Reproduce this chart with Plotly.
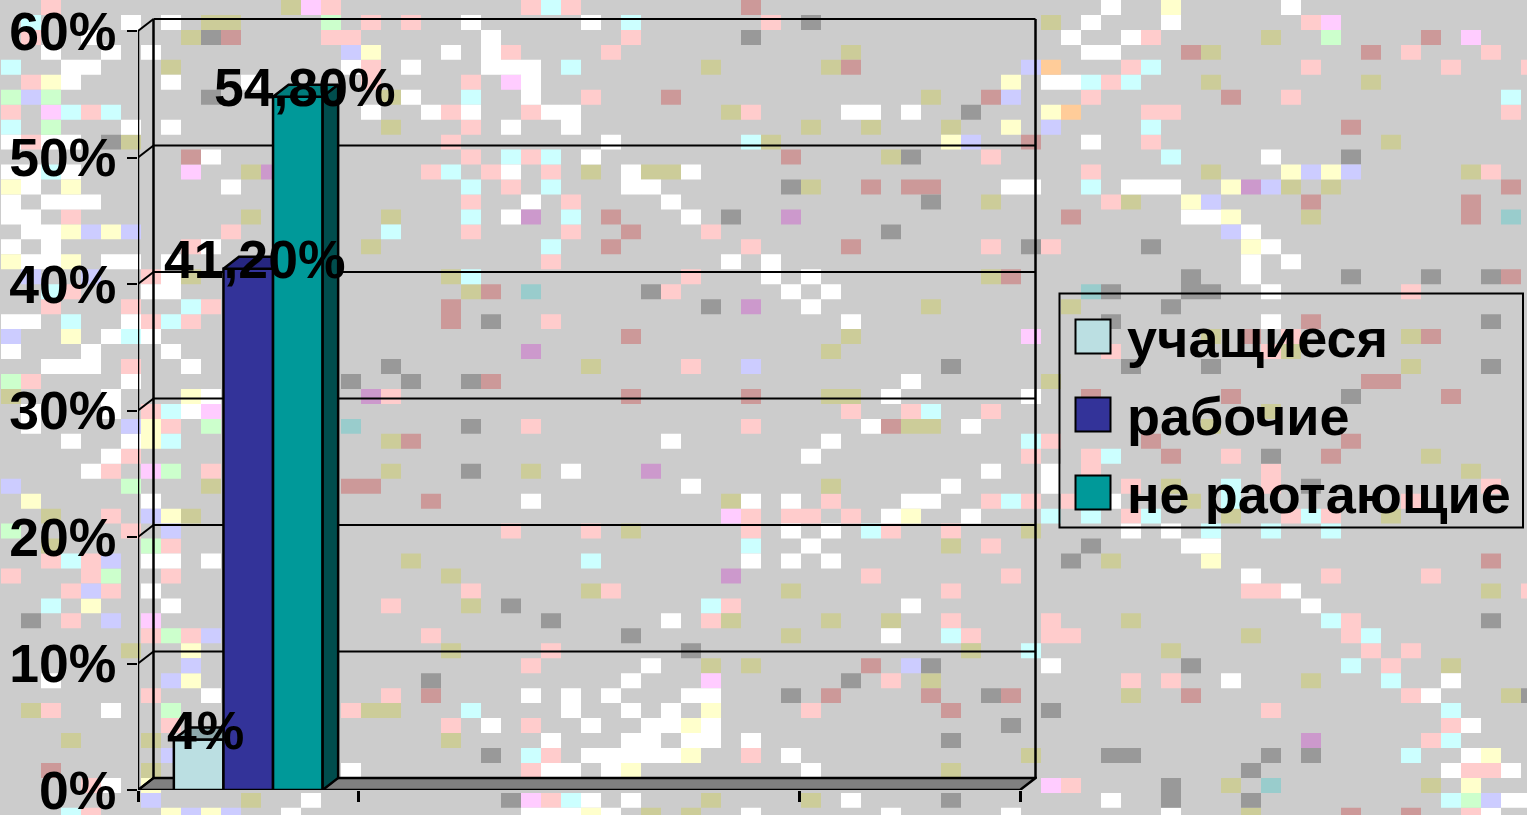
import plotly.graph_objects as go

W, H = 1527, 815
series = ["учащиеся", "рабочие", "не раотающие"]
values = [4.0, 41.2, 54.8]
labels = ["4%", "41,20%", "54,80%"]
colors = ["#BBDFE2", "#333399", "#009999"]
top_colors = ["#8DA8AB", "#262680", "#007D7D"]
side_color = "#004D4D"
y_ticks = [0, 10, 20, 30, 40, 50, 60]
y_tick_text = ["0%", "10%", "20%", "30%", "40%", "50%", "60%"]
x_ticks = [-0.5, 0.5, 2.5, 3.5]

# Background mosaic: one string per row, letter = colour, number = column
tile_colors = dict(W="#FFFFFF", P="#FFCCCC", K="#CCCC99", G="#999999", R="#CC9999", L="#FFFFCC", B="#CCCCFF",
                   N="#CCFFCC", C="#CCFFFF", M="#FFCCFF", V="#CC99CC", T="#99CCCC", O="#FFCC99")
tile_rows = [
    "P2 K14 M15 P16 P26 C27 P28 R37 W55 L58 W64",
    "C1 W6 W8 K10 K11 N16 P18 P20 W23 W29 C31 P38 G40 K52 W54 W58 P65 M66",
    "P1 W4 K9 G10 R11 P16 P17 W24 P31 G37 W53 W56 P57 K63 N66 R71 M73",
    "W2 W5 W7 B17 L18 W22 W24 P25 P30 K42 W54 W55 R59 K60 R68 P70 P74",
    "C0 W3 W4 K8 W17 P18 W20 W24 W25 W26 C28 K35 K41 R42 B51 O52 P56 C57 P65 P72 P76",
    "P1 L2 W3 W8 W12 P18 P23 M25 W26 L50 W52 W53 C54 P55 C56 K60 K68",
    "N0 B1 N2 G10 K19 W20 C23 W26 P29 R33 K46 R49 B50 P54 R61 P64 C75",
    "P0 M2 C3 P4 C5 W18 W21 P22 W23 P26 W27 W28 K36 P37 W42 W43 W45 G48 L52 O53 P57 P58 P75",
    "C0 N2 W6 W8 K19 P23 W25 W28 K40 K43 K47 L50 B52 C57 R67",
    "W0 P1 W2 W3 G5 K6 P22 W30 C37 K38 L47 B48 R51 W54 P57 K69",
    "R9 W10 P23 C25 P26 C27 W29 R39 K44 G45 P49 C58 W63 G67",
    "W0 W1 C2 W3 M9 K12 V13 P21 C22 P24 W25 P27 K29 W31 K32 K33 W34 P54 K60 L64 B65 L66 B67 K73 P74",
    "L0 W1 L3 W11 C23 P25 C27 W31 W32 G39 K40 R43 R45 R46 W50 W51 C54 W56 W57 W58 L61 V62 B63 K64 K66 R75",
    "W0 W2 W3 W4 P23 W26 P28 W33 G46 K49 P55 K56 L59 B60 R65 R73",
    "W0 W1 P3 K12 K19 C23 W25 V26 C28 R30 W34 G36 V39 R53 W59 W60 L61 K65 R73 T75",
    "W1 W2 L3 B4 L5 B6 P11 C19 P23 P28 R31 P35 G44 B61 W62",
    "W0 W2 P9 W10 K18 C27 R30 P37 R42 P49 G51 P52 G57 L62 W63",
    "L0 W1 W2 L3 W5 W6 W8 P27 W36 W38 W62 W64",
    "B1 B4 P7 W8 K9 K22 C23 P34 W38 W40 K49 R50 G59 W62 G67 G71 G74 R75",
    "C2 P3 W7 W8 K23 R24 T26 G32 P33 W39 W41 T54 G55 G59 G60 W63 P70",
    "P2 P6 C9 P10 R22 G35 V37 W40 K46 K53 G58",
    "W0 W1 C3 W6 P7 C8 P9 R22 G24 P27 W42 G55 W63 R65 G74",
    "B0 L3 W5 C6 W7 R31 K42 M51 K60 R62 P64 K70 R71",
    "W0 W4 W8 V26 K41 P55 P63 K64",
    "W2 W3 W4 P6 W9 G19 K29 P34 B37 G47 G56 G60 K70 G74",
    "N0 P1 W6 G17 G20 G23 R24 W45 K52 R68 R69",
    "K0 W5 L9 W10 V18 P19 R31 R37 K41 K42 W44 W51 R54 R61 G67 R72",
    "W1 W5 P7 C8 W9 M10 P42 P45 C46 P49 K63",
    "W1 B6 L7 P8 N10 T17 G23 P26 P37 W43 R44 K45 K46 W48 K60",
    "W3 W6 L7 C8 K19 R20 W33 W41 C51 P52 R57 R67",
    "W5 P6 W40 P51 P54 C55 R58 P61 G63 R66 K71",
    "W4 P5 M7 N8 P10 K19 G23 K26 W28 V32 W49 W52 P54 P63 K73",
    "B0 N6 K10 R17 R18 W34 K41 W47 W52 P56 K58 C61 P63 G65 P74",
    "L1 W7 R21 W26 K36 W37 W39 P41 W45 W46 P49 C50 P51 P53 W55 K59 C61 P70",
    "K2 P5 B7 L8 K9 M36 P37 P39 P40 P42 W44 L45 W48 C52 C54 P56 C57 K61 P64 C65 P66 K69",
    "N0 P6 B8 P25 P29 K31 P37 W39 W41 C43 P44 P47 K51 W56 W58 C60 C63 C66",
    "K2 N7 P8 C37 W40 K47 P49 G54 W59 W60",
    "P2 C3 P4 B5 W7 W8 W10 K20 C29 W37 W39 W41 G53 K55 L60 R74",
    "P0 P4 N5 P8 K22 V36 P43 P50 W62 P66 P71",
    "P3 B4 P5 W7 P23 K29 P30 K39 P47 P62 P63 W64 K74 P76",
    "C2 L4 W8 P19 K23 G25 C35 P36 W45 W65",
    "G1 P3 B5 M7 G27 W33 P35 K36 K41 K44 P47 P52 K56 C66 P67 G74",
    "P7 N8 P9 B10 P21 G31 K39 W44 C47 P48 P52 P53 K62 P67 C68",
    "K6 L9 K22 P27 G34 K48 C51 K58 P68 P70",
    "B9 P26 W32 K35 K37 R43 B45 G46 W52 G59 C67 P69 K72",
    "W2 B8 L9 G21 W31 M35 G42 P44 K46 P56 P58 W61 K65 C69 W72",
    "P7 W10 P19 R21 W26 W28 W30 W34 W35 G39 R41 R46 G49 R50 K56 R59 P70 W71 K75 G76",
    "K1 P2 W5 N8 P17 K18 K19 C23 W28 W31 W33 L35 P40 R47 G52 P63 C72",
    "P8 P22 W24 P26 W29 W32 W33 L34 W35 G50 P72 W73",
    "K3 K7 K22 W27 W31 W32 W34 W35 W37 G47 V65 P71 C72",
    "B8 G24 C26 P27 W29 W30 W31 W32 W33 L34 P37 W39 K51 G55 G56 G63 G65 C70 W73 L74",
    "R2 K7 W17 P26 W27 W28 W30 L31 W40 K47 G62 W72 P73 P74 W75",
    "P4 W5 L7 M52 P53 G58 K61 T63 K71 L73",
    "B7 K12 W15 G25 M26 P27 C28 W29 W31 K35 K40 W42 G47 W55 G58 G62 C72 N73 B74 W75 W76",
    "C3 P4 L8 B9 L10 B11 W14 W26 W27 W28 L29 W30 K32 K34 W37 W44 W50 W58 K62 R67 R70 P73 W74",
]

FONT = "Liberation Sans"
X0, X1, Y0, Y1 = 138.0, 1037.0, 790.0, 18.0
XMIN = -0.5
XSCALE = 220.5
YSCALE = 12.65
xmax = XMIN + (X1 - X0) / XSCALE
ymax = (Y0 - Y1) / YSCALE
DX = 15.5 / XSCALE
DY = 12.0 / YSCALE
BW = 49.6 / XSCALE
TW, TH = 20.0, 14.96


def P(x, y):
    return x / W, 1 - y / H


shapes = []
paths = {}
for r, row in enumerate(tile_rows):
    for item in row.split():
        k, col = item[0], int(item[1:])
        xa, ya = P(1 + col * TW, r * TH)
        xb_, yb_ = P(1 + (col + 1) * TW, (r + 1) * TH)
        paths.setdefault(k, []).append(f"M{xa:.5f},{ya:.5f}H{xb_:.5f}V{yb_:.5f}H{xa:.5f}Z")
for k, p in paths.items():
    shapes.append(dict(type="path", xref="paper", yref="paper", layer="below", path="".join(p),
                       fillcolor=tile_colors[k], line=dict(width=0)))

fig = go.Figure()
for i, (n, v, col) in enumerate(zip(series, values, colors)):
    fig.add_bar(x=[0], y=[v], name=n, marker=dict(color=col, line=dict(color="#000", width=2.5)), showlegend=False)

line = dict(color="#000", width=2.5)
for i, v in enumerate(values):
    left = (i - 1.5) * BW
    right = left + BW
    if i < 2:
        xs = [left, left + DX, right, right, left]
    else:
        xs = [left, left + DX, right + DX, right, left]
    ys = [v, v + DY, v + DY, v, v]
    fig.add_scatter(x=xs, y=ys, mode="lines", fill="toself", fillcolor=top_colors[i], line=line, showlegend=False, hoverinfo="skip")
    if i == 2:
        fig.add_scatter(x=[right, right + DX, right + DX, right, right], y=[0, DY, v + DY, v, 0], mode="lines", fill="toself",
                        fillcolor=side_color, line=line, showlegend=False, hoverinfo="skip")

xb = XMIN + DX
xe = 3.5 + DX


def seg(x0, y0, x1, y1, w=2):
    shapes.append(dict(type="line", xref="x", yref="y", x0=x0, y0=y0, x1=x1, y1=y1, layer="below", line=dict(color="#000", width=w)))


shapes.append(dict(type="path", xref="x", yref="y", layer="below", fillcolor="#808080", line=dict(color="#000", width=2.5),
                   path=f"M{XMIN},0 L{xb},{DY} L{xe},{DY} L{3.5},0 Z"))
for t in y_ticks:
    seg(XMIN, t, xb, t + DY)
    if t:
        seg(xb, t + DY, xe, t + DY)
seg(xb, DY, xb, 60 + DY, 2.5)
seg(xe, DY, xe, 60 + DY, 2.5)
seg(XMIN, 0, XMIN, 60, 2.5)

# legend
lx0, lx1, ly0, ly1 = 1059.5, 1523, 293.5, 527.5
xa, ya = P(lx0, ly0)
xc, yc_ = P(lx1, ly1)
shapes.append(dict(type="rect", xref="paper", yref="paper", x0=xa, y0=ya, x1=xc, y1=yc_, layer="below", line=dict(color="#000", width=2)))
annotations = []
for i, n in enumerate(series):
    yc = 336.5 + i * 78
    xa, ya = P(1075.5, yc - 17)
    xc, yd = P(1110.5, yc + 17)
    shapes.append(dict(type="rect", xref="paper", yref="paper", x0=xa, y0=ya, x1=xc, y1=yd, fillcolor=colors[i], line=dict(color="#000", width=2)))
    xa, ya = P(1125, yc + 1.5)
    annotations.append(dict(xref="paper", yref="paper", x=xa, y=ya, text=n, showarrow=False, xanchor="left", yanchor="middle",
                            font=dict(family=FONT, size=54, color="#000", weight="bold")))
for i, (v, t) in enumerate(zip(values, labels)):
    annotations.append(dict(x=(i - 1) * BW, y=v, text=t, showarrow=False, xshift=6.5, yshift=9, xanchor="center", yanchor="middle",
                            font=dict(family=FONT, size=53.5, color="#000", weight="bold")))

fig.update_layout(
    width=W, height=H, margin=dict(l=0, r=0, t=0, b=0, autoexpand=False), paper_bgcolor="#CCCCCC", plot_bgcolor="rgba(0,0,0,0)",
    barmode="group", bargap=1 - 3 * BW, bargroupgap=0, shapes=shapes, annotations=annotations, showlegend=False,
    font=dict(family=FONT, color="#000"),
    xaxis=dict(domain=[X0 / W, X1 / W], range=[XMIN, xmax], tickvals=x_ticks, ticktext=[""] * 4, ticks="outside", ticklen=11, tickwidth=2.5,
               tickcolor="#000", showgrid=False, zeroline=False, showline=False, automargin=False),
    yaxis=dict(domain=[1 - Y0 / H, 1 - Y1 / H], range=[0, ymax], tickvals=y_ticks, ticktext=y_tick_text, ticks="outside", ticklen=10, tickwidth=2,
               tickcolor="#000", showgrid=False, zeroline=False, showline=False, ticklabelstandoff=0, automargin=False, ticklabeloverflow="allow",
               tickfont=dict(family=FONT, size=53.5, color="#000", weight="bold")),
)
fig.write_html("out.html", config=dict(displayModeBar=False), post_script="document.body.style.margin='0';")
